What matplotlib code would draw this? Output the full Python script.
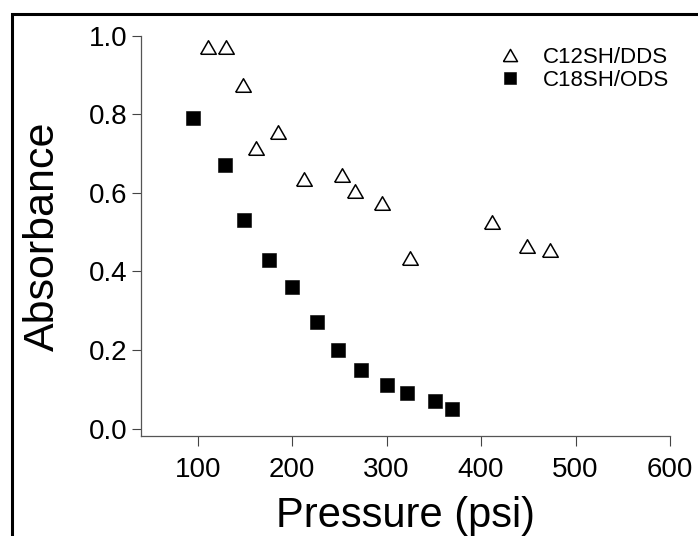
import matplotlib
matplotlib.use('Agg')
import matplotlib.pyplot as plt
from matplotlib.patches import Rectangle

plt.rcParams['font.family'] = ['Liberation Sans', 'DejaVu Sans']

# C12SH/DDS (open triangles)
dds_pressure = [111, 130, 148, 162, 185, 213, 253, 267, 295, 325, 412, 449, 473]
dds_absorbance = [0.97, 0.97, 0.875, 0.715, 0.755, 0.635, 0.645, 0.605, 0.575, 0.435, 0.525, 0.465, 0.455]

# C18SH/ODS (filled squares)
ods_pressure = [95, 129, 149, 175, 200, 226, 249, 273, 300, 322, 351, 369]
ods_absorbance = [0.79, 0.67, 0.53, 0.43, 0.36, 0.27, 0.20, 0.15, 0.11, 0.09, 0.07, 0.05]

x_ticks = [100, 200, 300, 400, 500, 600]
y_ticks = [0.0, 0.2, 0.4, 0.6, 0.8, 1.0]

W, H = 698, 536
fig = plt.figure(figsize=(W / 100, H / 100), dpi=100)
ax = fig.add_axes([141 / W, 1 - 436 / H, (670 - 141) / W, (436 - 35.7) / H])

# Triangle a bit flatter than matplotlib's default '^'.
triangle = [(-1, -0.87), (0, 0.87), (1, -0.87), (-1, -0.87)]

ax.plot(dds_pressure, dds_absorbance, linestyle='none', marker=triangle,
        markersize=11.2, markerfacecolor='white', markeredgecolor='black',
        markeredgewidth=1.1, label='C12SH/DDS')
ax.plot(ods_pressure, ods_absorbance, linestyle='none', marker='s',
        markersize=10.2, markerfacecolor='black', markeredgecolor='black',
        markeredgewidth=0.4, label='C18SH/ODS')

ax.set_xlim(40, 600)
ax.set_ylim(-0.019, 1.0)
ax.set_xticks(x_ticks)
ax.set_yticks(y_ticks)
ax.set_yticklabels([f'{v:.1f}' for v in y_ticks])

for side in ['top', 'right']:
    ax.spines[side].set_visible(False)
for side in ['left', 'bottom']:
    ax.spines[side].set_color('#555555')
    ax.spines[side].set_linewidth(0.9)

ax.tick_params(axis='x', direction='out', length=7.2, width=0.8, color='#444444',
               labelsize=20, pad=8)
ax.tick_params(axis='y', direction='out', length=6.5, width=0.8, color='#444444',
               labelsize=20, pad=3)

ax.set_xlabel('Pressure (psi)', fontsize=30, labelpad=9.5)
ax.set_ylabel('Absorbance', fontsize=31, labelpad=19)

ax.legend(loc='upper left', bbox_to_anchor=(488 / W, 1 - 36 / H),
          bbox_transform=fig.transFigure, frameon=False, fontsize=16,
          handlelength=1.0, handletextpad=0.95, labelspacing=0.08,
          markerscale=0.9, borderpad=0.0)

# Black frame around the whole figure (runs off the right and bottom edges).
fig.patches.append(Rectangle((12 / W, -0.2), 2.0, 1 - 13.5 / H + 0.2,
                             transform=fig.transFigure, fill=False,
                             edgecolor='black', linewidth=2.2))

fig.savefig('out.png', dpi=100)
